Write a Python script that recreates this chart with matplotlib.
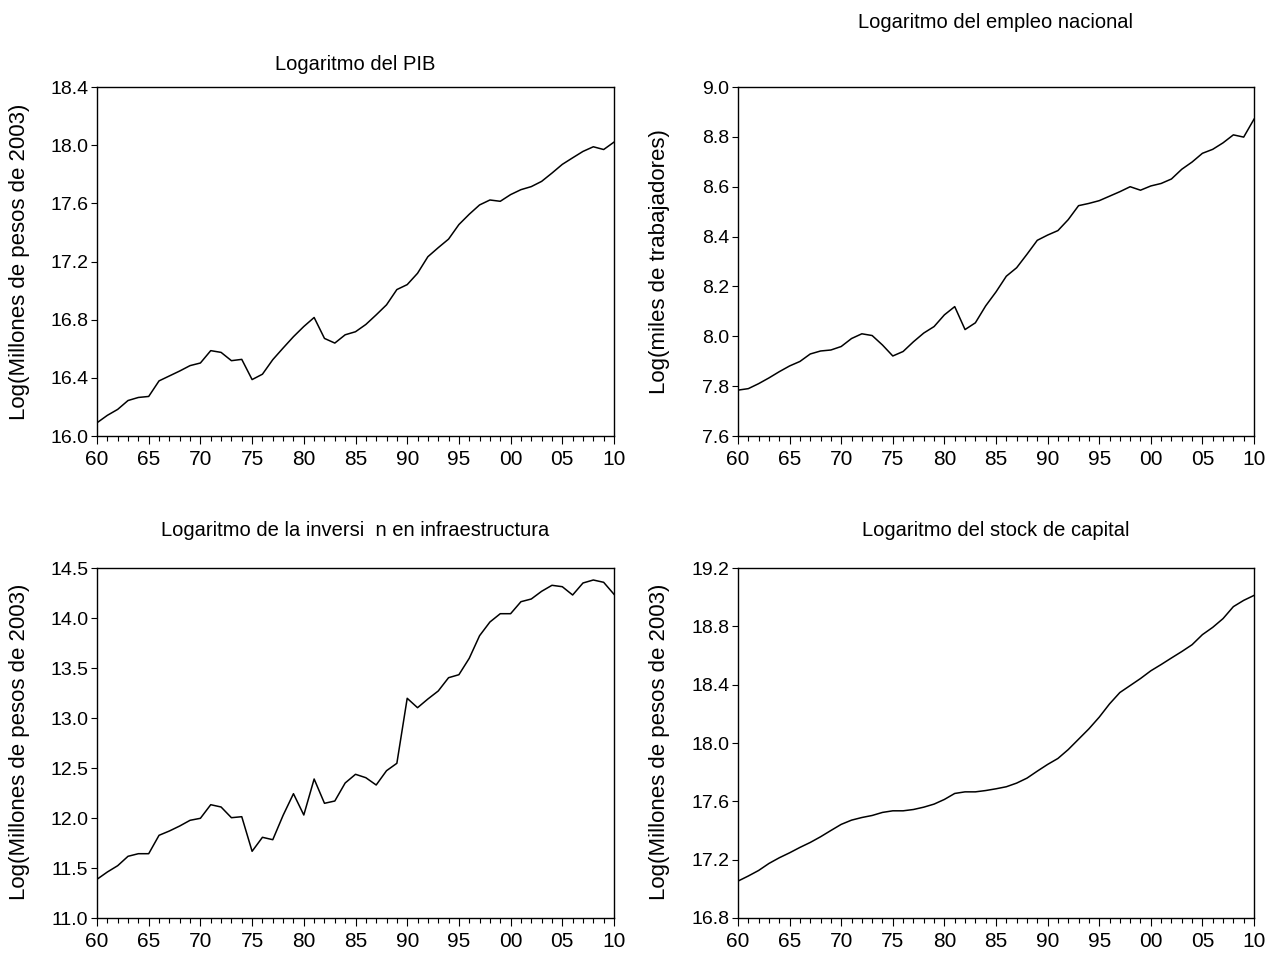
import matplotlib
matplotlib.use("Agg")
import matplotlib.pyplot as plt
from matplotlib.ticker import MultipleLocator
import numpy as np

years = list(range(1960, 2011))
xtick_labels = ["60", "65", "70", "75", "80", "85", "90", "95", "00", "05", "10"]

pib = [16.091, 16.142, 16.183, 16.244, 16.265, 16.272, 16.379, 16.413, 16.447, 16.484,
       16.502, 16.587, 16.575, 16.518, 16.527, 16.388, 16.425, 16.525, 16.605, 16.683,
       16.753, 16.815, 16.671, 16.639, 16.696, 16.717, 16.767, 16.833, 16.902, 17.007,
       17.041, 17.119, 17.233, 17.295, 17.354, 17.454, 17.525, 17.589, 17.623, 17.614,
       17.660, 17.694, 17.715, 17.751, 17.808, 17.868, 17.913, 17.957, 17.989, 17.970,
       18.021]

empleo = [7.784, 7.790, 7.810, 7.833, 7.858, 7.881, 7.899, 7.929, 7.941, 7.945,
          7.959, 7.991, 8.010, 8.003, 7.965, 7.921, 7.939, 7.978, 8.013, 8.039,
          8.086, 8.119, 8.027, 8.054, 8.122, 8.178, 8.241, 8.275, 8.329, 8.385,
          8.406, 8.424, 8.468, 8.524, 8.533, 8.544, 8.562, 8.580, 8.600, 8.586,
          8.603, 8.613, 8.631, 8.670, 8.699, 8.734, 8.750, 8.776, 8.808, 8.799,
          8.871]

inversion = [11.387, 11.460, 11.523, 11.617, 11.643, 11.643, 11.827, 11.870, 11.920, 11.977,
             11.997, 12.133, 12.110, 12.003, 12.013, 11.667, 11.807, 11.783, 12.027, 12.243,
             12.030, 12.390, 12.147, 12.170, 12.350, 12.437, 12.403, 12.330, 12.473, 12.547,
             13.197, 13.103, 13.190, 13.270, 13.403, 13.433, 13.597, 13.823, 13.960, 14.043,
             14.043, 14.163, 14.190, 14.267, 14.327, 14.313, 14.230, 14.350, 14.380, 14.357,
             14.237]

capital = [17.053, 17.088, 17.126, 17.174, 17.213, 17.247, 17.284, 17.318, 17.357, 17.400,
           17.442, 17.471, 17.489, 17.503, 17.524, 17.535, 17.535, 17.544, 17.560, 17.581,
           17.613, 17.654, 17.665, 17.665, 17.674, 17.686, 17.700, 17.725, 17.759, 17.807,
           17.853, 17.894, 17.955, 18.026, 18.097, 18.177, 18.268, 18.346, 18.394, 18.442,
           18.495, 18.538, 18.583, 18.627, 18.674, 18.743, 18.793, 18.853, 18.935, 18.978,
           19.012]

titles = ["Logaritmo del PIB", "Logaritmo del empleo nacional",
          "Logaritmo de la inversi  n en infraestructura", "Logaritmo del stock de capital"]
ylabels = ["Log(Millones de pesos de 2003)", "Log(miles de trabajadores)",
           "Log(Millones de pesos de 2003)", "Log(Millones de pesos de 2003)"]

plt.rcParams["font.family"] = ["Liberation Sans", "DejaVu Sans"]

W, H = 1270, 955
fig = plt.figure(figsize=(12.7, 9.55), dpi=100)

# panel boxes in pixels: left, top, right, bottom
boxes = [(97, 87, 614, 436), (738, 87, 1254, 436),
         (97, 568, 614, 918), (738, 568, 1254, 918)]
ylims = [(16.0, 18.4), (7.6, 9.0), (11.0, 14.5), (16.8, 19.2)]
ysteps = [0.4, 0.2, 0.5, 0.4]
title_pos = [(355, 65), (996, 22), (355, 530), (996, 530)]
ylab_pos = [(20, 262), (660, 262), (20, 742), (660, 742)]
series = [pib, empleo, inversion, capital]

for i in range(4):
    l, t, r, b = boxes[i]
    ax = fig.add_axes([l / W, 1 - b / H, (r - l) / W, (b - t) / H])
    ax.plot(years, series[i], color="black", lw=1.1)
    ax.set_xlim(1960, 2010)
    ax.set_ylim(*ylims[i])
    ax.set_xticks(range(1960, 2011, 5))
    ax.set_xticklabels(xtick_labels)
    ax.xaxis.set_minor_locator(MultipleLocator(1))
    lo, hi = ylims[i]
    yt = np.arange(lo, hi + 1e-6, ysteps[i])
    ax.set_yticks(yt)
    ax.set_yticklabels(["%.1f" % v for v in yt])
    ax.tick_params(axis="x", which="major", direction="out", length=5.8, width=0.8,
                   labelsize=15, pad=4)
    ax.tick_params(axis="x", which="minor", direction="out", length=3.6, width=0.8)
    ax.tick_params(axis="y", direction="out", length=4.3, width=0.8, labelsize=14, pad=2)
    for s in ax.spines.values():
        s.set_linewidth(1.0)
    tx, ty = title_pos[i]
    fig.text(tx / W, 1 - ty / H, titles[i], ha="center", va="center", fontsize=14.5)
    lx, ly = ylab_pos[i]
    fig.text(lx / W, 1 - ly / H, ylabels[i], ha="center", va="center",
             rotation=90, fontsize=16)

fig.savefig("out.png", dpi=100)
